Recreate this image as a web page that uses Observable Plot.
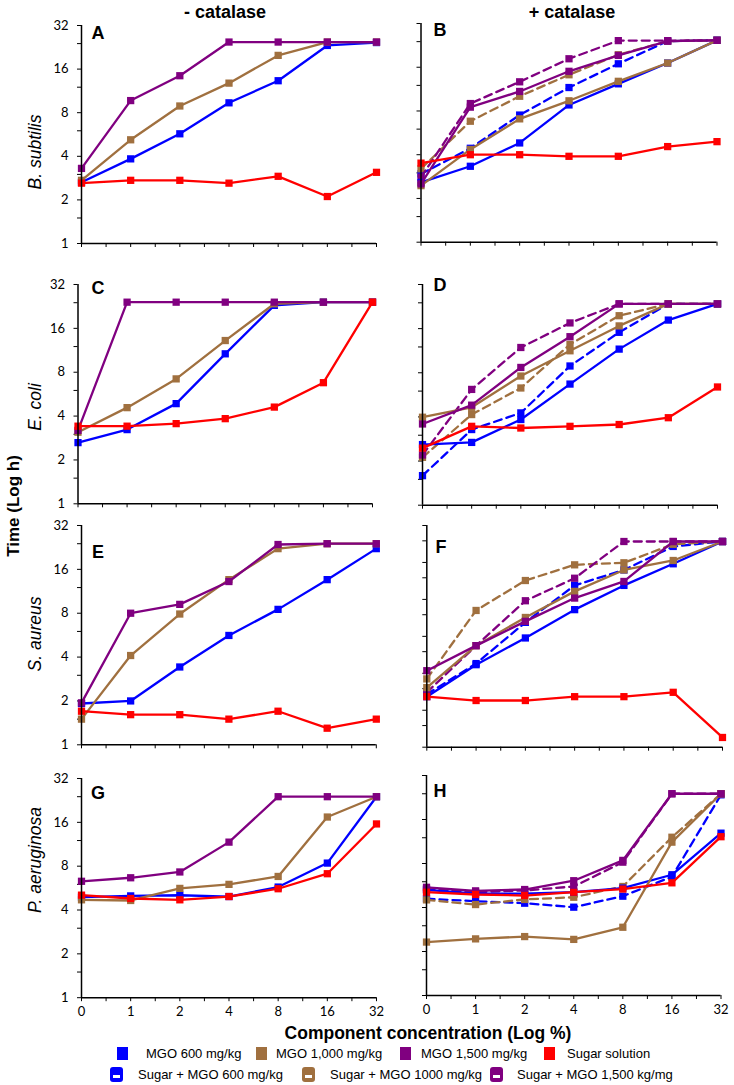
<!DOCTYPE html>
<html><head><meta charset="utf-8">
<script src="https://cdn.jsdelivr.net/npm/d3@7"></script>
<script src="https://cdn.jsdelivr.net/npm/@observablehq/plot@0.6"></script>
<style>
body{margin:0;background:#fff;}
#root{position:relative;width:734px;height:1085px;overflow:hidden;font-family:"Liberation Sans",Arial,sans-serif;color:#000;}
.abs{position:absolute;white-space:nowrap;}
.c{transform:translate(-50%,-50%);}
.rot{transform:translate(-50%,-50%) rotate(-90deg);}
.panel{position:absolute;}
.panel svg{overflow:visible;background:transparent;}
.sq{position:absolute;width:11px;height:13px;}
.ic{position:absolute;width:13px;height:15px;border-radius:3px;}
.ic::after{content:"";position:absolute;left:3px;top:8px;width:7px;height:3px;background:#fff;}
.lt{position:absolute;font-size:13px;line-height:15px;}
</style></head><body><div id="root"></div>
<script>
const concentrations = ["0","1","2","4","8","16","32"];
const seriesNames = ["MGO 600 mg/kg","MGO 1,000 mg/kg","MGO 1,500 mg/kg","Sugar solution",
  "Sugar + MGO 600 mg/kg","Sugar + MGO 1000 mg/kg","Sugar + MGO 1,500 kg/mg"];
const seriesColors = ["#0000ff","#a0703f","#800080","#ff0000","#0000ff","#a0703f","#800080"];
const seriesDashed = [false,false,false,false,true,true,true];
const columnTitles = ["- catalase","+ catalase"];
const organisms = ["B. subtilis","E. coli","S. aureus","P. aeruginosa"];
const panelLetters = ["A","B","C","D","E","F","G","H"];
const yTickValues = [0.5,0.75,1,1.5,2,3,4,6,8,12,16,24,32];
const yLabelValues = [1,2,4,8,16,32];
const xTitle = "Component concentration (Log %)";
const yTitle = "Time (Log h)";

// Each row: values at 0,1,2,4,8,16,32 %; order follows seriesNames
const panelA = [
  [2.65,3.84,5.72,9.36,13.3,23.3,24.4],
  [2.73,5.2,8.9,12.8,19.9,24.6,24.6],
  [3.3,9.7,14.4,24.6,24.6,24.6,24.6],
  [2.61,2.73,2.73,2.61,2.91,2.11,3.1]];
const panelB = [
  [2.58,3.33,4.82,8.8,12.3,17.1,24.5],
  [2.45,4.35,7.06,9.4,12.8,17.1,24.5],
  [2.52,8.5,10.9,15,19.3,24.2,24.5],
  [3.5,4.0,4.0,3.9,3.9,4.55,4.92],
  [2.95,4.43,7.5,11.6,16.9,24.2,24.5],
  [3.2,6.8,10.1,14.2,19.5,24.2,24.5],
  [2.8,9.0,12.7,18.3,24.4,24.4,24.5]];
const panelC = [
  [2.63,3.23,4.87,10.7,23.0,24.2,24.2],
  [3.1,4.57,7.2,13.2,23.6,24.2,24.2],
  [3.19,24.2,24.2,24.2,24.2,24.2,24.2],
  [3.41,3.41,3.55,3.84,4.61,6.78,24.2]];
const panelD = [
  [2.59,2.68,3.84,6.7,11.6,18.3,23.6],
  [3.98,4.65,7.6,11.3,16.7,23.6,23.6],
  [3.58,4.81,8.7,14.1,23.6,23.6,23.6],
  [2.45,3.45,3.36,3.45,3.55,3.95,6.4],
  [1.59,3.28,4.26,8.9,15.1,23.6,23.6],
  [2.12,4.15,6.3,12.5,19.6,23.6,23.6],
  [2.2,6.16,11.9,17.5,23.6,23.6,23.6]];
const panelE = [
  [1.92,2.0,3.42,5.63,8.5,13.6,22.2],
  [1.5,4.1,7.9,13.6,22.2,24,24],
  [1.94,8.0,9.2,13.2,23.7,24,24],
  [1.7,1.61,1.61,1.5,1.7,1.3,1.5]];
const panelF = [
  [1.29,2.35,3.88,6.6,10.4,15.6,23.7],
  [1.53,3.36,5.7,9.3,13.9,16.6,23.7],
  [2.1,3.36,5.3,8.2,11.2,23.7,23.7],
  [1.29,1.2,1.2,1.29,1.29,1.4,0.6],
  [1.35,2.4,5.2,10.4,13.9,21.6,23.7],
  [1.8,6.5,11.4,15.3,15.9,22.5,23.7],
  [1.4,3.36,7.8,11.9,23.7,23.7,23.7]];
const panelG = [
  [4.9,5.0,5.05,4.95,5.75,8.4,24],
  [4.7,4.65,5.63,6.0,6.8,17.4,24],
  [6.3,6.66,7.3,11.7,24,24,24],
  [5.06,4.8,4.7,4.95,5.6,7.1,15.6]];
const panelH = [
  [5.28,4.97,4.97,5.09,5.43,6.7,12.9],
  [2.32,2.44,2.53,2.42,2.93,11.2,24],
  [5.5,5.2,5.31,6.1,8.4,24,24],
  [5.09,4.91,4.83,5.09,5.35,5.9,12.2],
  [4.59,4.42,4.28,4.02,4.78,6.5,23.6],
  [4.51,4.19,4.54,4.7,5.57,12.1,24],
  [5.35,5.1,5.23,5.57,8.17,24,24]];

const root = document.getElementById("root");
function addText(txt, x, y, cls, style) {
  const d = document.createElement("div");
  d.className = "abs " + cls;
  d.textContent = txt;
  d.style.left = x + "px"; d.style.top = y + "px";
  Object.assign(d.style, style || {});
  root.appendChild(d);
}

const layout = [
  {vals: panelA, col:0, axisX:81, x32:376, y32:25, yBot:243, ymin:1, xl:false, lx:98, ly:33},
  {vals: panelB, col:1, axisX:420.5, x32:716.5, y32:23, yBot:241.7, ymin:1, xl:false, lx:440, ly:30},
  {vals: panelC, col:0, axisX:77.5, x32:372, y32:284, yBot:503.3, ymin:1, xl:false, lx:98, ly:288},
  {vals: panelD, col:1, axisX:422, x32:717, y32:284.3, yBot:505, ymin:1, xl:false, lx:440, ly:285},
  {vals: panelE, col:0, axisX:81, x32:375.8, y32:525, yBot:744.3, ymin:1, xl:false, lx:98, ly:552},
  {vals: panelF, col:1, axisX:426.3, x32:722, y32:525, yBot:746.7, ymin:0.5, xl:false, lx:441, ly:547},
  {vals: panelG, col:0, axisX:81, x32:376, y32:777.5, yBot:996.7, ymin:1, xl:true, lx:98, ly:793},
  {vals: panelH, col:1, axisX:426, x32:720.5, y32:775, yBot:995, ymin:1, xl:true, lx:440, ly:791}
];

const xTickPositions = d3.range(0, 2 * (concentrations.length - 1) + 1).map(k => k / 2);

layout.forEach((g, p) => {
  const left = g.col === 0 ? 0 : 380;
  const width = g.col === 0 ? 380 : 354;
  const mt = 12, mb = 30;
  const height = (g.yBot - g.y32) + mt + mb;
  const order = [4,5,6,0,1,2,3].filter(s => s < g.vals.length);
  const marks = [];
  for (const s of order) {
    const d = g.vals[s].map((v, i) => ({i, v, series: seriesNames[s]}));
    const lineOpts = {x: "i", y: "v", stroke: seriesColors[s], strokeWidth: 2.3};
    if (seriesDashed[s]) lineOpts.strokeDasharray = "8,5";
    marks.push(Plot.line(d, lineOpts));
    marks.push(Plot.dot(d, {x: "i", y: "v", symbol: "square", r: 4.1, fill: seriesColors[s], stroke: "none"}));
  }
  marks.push(Plot.ruleX([0], {stroke: "black", strokeWidth: 1.5}));
  marks.push(Plot.ruleY([g.ymin], {stroke: "black", strokeWidth: 1.5}));
  const showY = g.col === 0;
  const plot = Plot.plot({
    width, height,
    marginLeft: g.axisX - left, marginRight: left + width - g.x32,
    marginTop: mt, marginBottom: mb,
    style: {fontFamily: "Lato, 'Open Sans', sans-serif", fontSize: "13px", color: "black", background: "transparent", overflow: "visible"},
    x: {type: "linear", domain: [0, concentrations.length - 1],
        ticks: xTickPositions,
        tickFormat: i => (g.xl && Number.isInteger(i)) ? concentrations[i] : "",
        tickSize: 4, tickPadding: 5, label: null},
    y: {type: "log", base: 2, domain: [g.ymin, 32],
        ticks: yTickValues.filter(t => t >= g.ymin),
        tickFormat: t => (showY && yLabelValues.includes(t)) ? String(t) : "",
        tickSize: 4, tickPadding: 9, label: null},
    marks
  });
  const div = document.createElement("div");
  div.className = "panel";
  div.style.left = left + "px";
  div.style.top = (g.y32 - mt) + "px";
  div.appendChild(plot);
  root.appendChild(div);
  addText(panelLetters[p], g.lx, g.ly, "c", {fontWeight: "bold", fontSize: "18px"});
});

addText(columnTitles[0], 225, 12, "c", {fontWeight: "bold", fontSize: "18px"});
addText(columnTitles[1], 572, 12, "c", {fontWeight: "bold", fontSize: "18px"});
const orgY = [152, 407, 634, 860];
organisms.forEach((o, k) => addText(o, 35, orgY[k], "rot", {fontStyle: "italic", fontSize: "17.5px"}));
addText(yTitle, 14, 506, "rot", {fontWeight: "bold", fontSize: "17px"});
addText(xTitle, 428, 1033, "c", {fontWeight: "bold", fontSize: "17.5px"});

// legend
const legendPos = [
  {sx:117, tx:146, y:1053}, {sx:256, tx:276, y:1053}, {sx:400, tx:421, y:1053}, {sx:544, tx:567, y:1053},
  {sx:110, tx:138, y:1074}, {sx:302, tx:330, y:1074}, {sx:490, tx:517, y:1074}
];
seriesNames.forEach((n, s) => {
  const pos = legendPos[s];
  const box = document.createElement("div");
  box.className = seriesDashed[s] ? "ic" : "sq";
  box.style.background = seriesColors[s];
  box.style.left = pos.sx + "px";
  box.style.top = (pos.y - (seriesDashed[s] ? 7.5 : 6.5)) + "px";
  root.appendChild(box);
  const t = document.createElement("div");
  t.className = "lt";
  t.textContent = n;
  t.style.left = pos.tx + "px";
  t.style.top = (pos.y - 7.5) + "px";
  root.appendChild(t);
});
</script></body></html>
